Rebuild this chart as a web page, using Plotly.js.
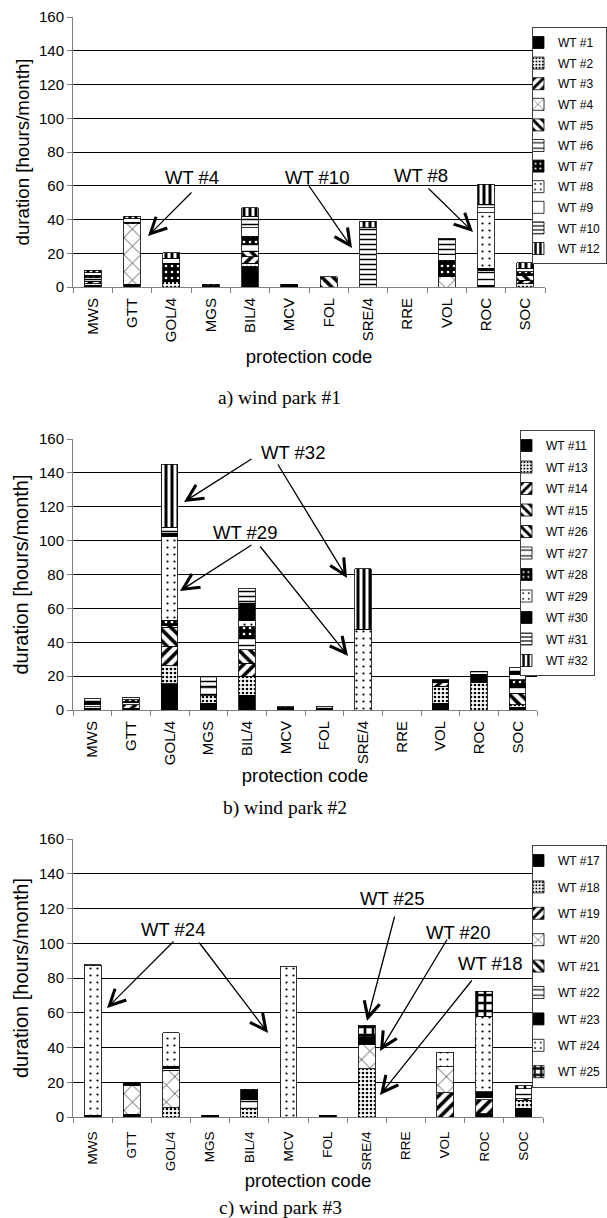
<!DOCTYPE html>
<html>
<head>
<meta charset="utf-8">
<script src="https://cdn.plot.ly/plotly-3.0.1.min.js"></script>
<style>
html,body{margin:0;padding:0;background:#fff;}
#chart{width:607px;height:1218px;}
</style>
</head>
<body>
<div id="chart"></div>
<script>
// ---------- DATA ----------
const categories = ["MWS","GTT","GOL/4","MGS","BIL/4","MCV","FOL","SRE/4","RRE","VOL","ROC","SOC"];

// a) wind park #1  (hours/month, per protection code)
const seriesA = ["WT #1","WT #2","WT #3","WT #4","WT #5","WT #6","WT #7","WT #8","WT #9","WT #10","WT #12"];
const a_wt1  = [1,   1.5, 0,   0.5, 12, 1.5, 0, 0,  0, 0,  1,  0];
const a_wt2  = [1,   0,   3,   0,   2,  0,   0, 0,  0, 0,  0,  2];
const a_wt3  = [1.5, 0,   0,   0,   4,  0,   0, 0,  0, 0,  0,  2];
const a_wt4  = [0,   36,  0,   0,   0,  0,   0, 0,  0, 6,  0,  0];
const a_wt5  = [0,   0,   0,   0,   3,  0,   6, 0,  0, 0,  0,  3];
const a_wt6  = [2,   0,   0,   0,   4,  0,   0, 0,  0, 0,  9,  0];
const a_wt7  = [1.5, 1,   11,  1,   5,  0,   0, 0,  0, 10, 1,  2];
const a_wt8  = [0,   0,   0,   0,   0,  0,   0, 0,  0, 0,  33, 0];
const a_wt9  = [1.5, 2,   3,   0,   5,  0,   0, 0,  0, 3,  3,  2];
const a_wt10 = [0,   0,   0,   0,   7,  0,   0, 35, 0, 10, 2,  0];
const a_wt12 = [1.5, 1.5, 3.4, 0,   5,  0,   0, 4,  0, 0,  12, 3.5];

// b) wind park #2
const seriesB = ["WT #11","WT #13","WT #14","WT #15","WT #26","WT #27","WT #28","WT #29","WT #30","WT #31","WT #32"];
const b_wt11 = [1,   1,   15.5, 4,   8.6,  1, 1,   0,    0, 4,   0,    1.5];
const b_wt13 = [1,   0,   10.5, 4.4, 11.2, 0, 0,   0,    0, 10,  16.5, 1.5];
const b_wt14 = [0,   2,   11.5, 0,   7.8,  0, 0,   0,    0, 2,   0,    0];
const b_wt15 = [0,   0,   11.5, 0,   7.9,  0, 0,   0,    0, 0,   0,    7];
const b_wt26 = [0,   0,   1,    0,   0,    0, 0,   0,    0, 0,   0,    0];
const b_wt27 = [1.5, 1.5, 0,    4.6, 6.9,  0, 1.3, 0,    0, 0,   0,    4];
const b_wt28 = [1.5, 1.5, 3,    0,   6.8,  1, 0,   0,    0, 0,   0,    4];
const b_wt29 = [0,   0,   49.5, 0,   3.8,  0, 0,   47.6, 0, 0,   0,    3];
const b_wt30 = [0,   0,   2,    0,   10,   0, 0,   0,    0, 1.8, 4.5,  2];
const b_wt31 = [1.5, 1.5, 3.5,  6.6, 8.8,  0, 0,   0,    0, 0,   2,    2];
const b_wt32 = [0,   0,   37,   0,   0,    0, 0,   35.9, 0, 0,   0,    0];

// c) wind park #3
const seriesC = ["WT #17","WT #18","WT #19","WT #20","WT #21","WT #22","WT #23","WT #24","WT #25"];
const c_wt17 = [0.5, 1.5,  0,    1, 0,   0,    1, 0,    0, 0,    2,    5];
const c_wt18 = [0,   0,    5.2,  0, 5,   0,    0, 27.9, 0, 0,    0,    4.6];
const c_wt19 = [0,   0,    0,    0, 0,   0,    0, 0,    0, 14,   8,    0];
const c_wt20 = [0,   16.8, 21.8, 0, 0,   0,    0, 14,   0, 14.8, 0,    0];
const c_wt21 = [0,   0,    0,    0, 0,   0,    0, 0,    0, 0,    0,    1];
const c_wt22 = [0,   0,    1,    0, 5,   0,    0, 0,    0, 0,    1,    5.8];
const c_wt23 = [0.5, 1.5,  1.2,  0, 4.6, 0,    0, 4.4,  0, 0,    3.6,  0];
const c_wt24 = [86,  0,    19.4, 0, 0,   86.7, 0, 0,    0, 8.5,  43.3, 0];
const c_wt25 = [0.7, 0,    0,    0, 1.4, 0,    0, 6.6,  0, 0,    14.4, 1.6];

const captions = ["a) wind park #1","b) wind park #2","c) wind park #3"];
const xTitle = "protection code";
const yTitle = "duration [hours/month]";

// ---------- STYLE ----------
const valuesA = [a_wt1,a_wt2,a_wt3,a_wt4,a_wt5,a_wt6,a_wt7,a_wt8,a_wt9,a_wt10,a_wt12];
const valuesB = [b_wt11,b_wt13,b_wt14,b_wt15,b_wt26,b_wt27,b_wt28,b_wt29,b_wt30,b_wt31,b_wt32];
const valuesC = [c_wt17,c_wt18,c_wt19,c_wt20,c_wt21,c_wt22,c_wt23,c_wt24,c_wt25];
const fillA = ["solid","dense","diagF","cross","diagB","hbrick","blackdots","sparse","white","wave","vstripe"];
const fillB = ["solid","dense","diagF","diagB","diagB","hbrick","blackdots","sparse","solid","wave","vstripe"];
const fillC = ["solid","dense","diagF","cross","diagB","hbrick","solid","sparse","checker"];

const FONT = "Liberation Sans, Arial, sans-serif";
const SERIF = "Liberation Serif, Times New Roman, serif";
const W = 607, H = 1218;
const px = v => v / W;
const py = v => 1 - v / H;

function markerFor(key){
  const line = {color:'#000', width:0.8};
  const pat = (shape,size,solidity,fg,bg) => ({shape, size, solidity, fgcolor:fg||'#000', bgcolor:bg||'#fff'});
  switch(key){
    case 'solid': return {color:'#000', line};
    case 'white': return {color:'#fff', line};
    case 'dense': return {color:'#fff', line, pattern:pat('.',4,0.35)};
    case 'sparse': return {color:'#fff', line, pattern:pat('.',7,0.08)};
    case 'diagF': return {color:'#fff', line, pattern:pat('/',8,0.45)};
    case 'diagB': return {color:'#fff', line, pattern:pat('\\',8,0.45)};
    case 'cross': return {color:'#fff', line, pattern:pat('x',12,0.1)};
    case 'hbrick': return {color:'#fff', line, pattern:pat('-',7,0.2)};
    case 'wave': return {color:'#fff', line, pattern:pat('-',5,0.3)};
    case 'vstripe': return {color:'#fff', line, pattern:pat('|',6,0.5)};
    case 'blackdots': return {color:'#000', line, pattern:pat('.',6,0.15,'#fff','#000')};
    case 'checker': return {color:'#fff', line, pattern:pat('+',8,0.55)};
  }
}

const traces = [];
function addPark(names, values, fills, xa, ya, leg){
  names.forEach((n,i) => {
    traces.push({
      type:'bar', name:n, x:categories,
      y: values[i].map(v => v === 0 ? null : v),
      xaxis:xa, yaxis:ya, legend:leg, legendgroup: leg + n,
      marker: markerFor(fills[i]),
      hoverinfo:'name+y'
    });
  });
}
addPark(seriesA, valuesA, fillA, 'x', 'y', 'legend');
addPark(seriesB, valuesB, fillB, 'x2', 'y2', 'legend2');
addPark(seriesC, valuesC, fillC, 'x3', 'y3', 'legend3');

function xAxis(x0, x1, anchor, standoff, tickSize, labelGap){
  return {
    domain:[px(x0), px(x1)], anchor, type:'category',
    categoryorder:'array', categoryarray:categories,
    tickangle:-90, tickson:'boundaries', ticks:'outside', ticklen:5,
    ticklabelstandoff:labelGap,
    tickcolor:'#808080', showline:true, linecolor:'#808080', linewidth:1,
    showgrid:false, tickfont:{family:FONT, size:tickSize, color:'#000'},
    title:{text:xTitle, font:{family:FONT, size:18.5, color:'#000'}, standoff}
  };
}
function yAxis(top, bottom, anchor, titleSize){
  return {
    domain:[py(bottom), py(top)], anchor, range:[0,160], dtick:20,
    showgrid:true, gridcolor:'#000', gridwidth:1, zeroline:false,
    showline:true, linecolor:'#808080', linewidth:1,
    ticks:'outside', ticklen:5, tickcolor:'#808080',
    tickfont:{family:FONT, size:15, color:'#000'},
    title:{text:yTitle, font:{family:FONT, size:titleSize, color:'#000'}, standoff:4}
  };
}
function legendAt(right, top, gap){
  return {
    x:px(right), xanchor:'right', y:py(top), yanchor:'top',
    bgcolor:'#fff', bordercolor:'#404040', borderwidth:1,
    font:{family:FONT, size:12, color:'#000'},
    traceorder:'reversed+grouped', tracegroupgap:gap, indentation:-15
  };
}

const textNotes = [
  ["WT #4", 192, 178], ["WT #10", 317, 178], ["WT #8", 421, 175],
  ["WT #32", 293, 452], ["WT #29", 245, 532],
  ["WT #24", 173, 929], ["WT #25", 392, 898], ["WT #20", 458, 932], ["WT #18", 490, 963]
];
// arrows: [tailX, tailY, tipX, tipY] in page pixels
const arrows = [
  [193,191,148,236],[307,183,352,248],[427,187,473,232],
  [253,458,184,502],[277,463,347,578],[253,544,180,591],[259,545,348,656],
  [175,940,107,1008],[198,941,268,1033],[395,915,367,1021],[448,938,380,1051],[473,979,380,1095]
];
const annotations = [];
textNotes.forEach(t => annotations.push({
  text:t[0], x:px(t[1]), y:py(t[2]), xref:'paper', yref:'paper',
  xanchor:'center', yanchor:'middle', showarrow:false,
  font:{family:FONT, size:18.5, color:'#000'}
}));
arrows.forEach(a => annotations.push({
  text:'', x:px(a[2]), y:py(a[3]), xref:'paper', yref:'paper',
  ax:a[0]-a[2], ay:a[1]-a[3], axref:'pixel', ayref:'pixel',
  showarrow:true, arrowhead:5, arrowwidth:1.3, arrowsize:2.4, arrowcolor:'#000', standoff:0
}));
[[captions[0],279,398],[captions[1],285,808],[captions[2],280,1208]].forEach(c => annotations.push({
  text:c[0], x:px(c[1]), y:py(c[2]), xref:'paper', yref:'paper',
  xanchor:'center', yanchor:'middle', showarrow:false,
  font:{family:SERIF, size:19.5, color:'#000'}
}));

const layout = {
  width:W, height:H, margin:{l:0,r:0,t:0,b:0},
  paper_bgcolor:'#fff', plot_bgcolor:'#fff',
  barmode:'stack', bargap:0.57, showlegend:true,
  font:{family:FONT, color:'#000'},
  xaxis: xAxis(73, 545, 'y', 8, 15, 4),
  yaxis: yAxis(17, 287, 'x', 18.7),
  xaxis2: xAxis(73, 537, 'y2', 4, 15, 4),
  yaxis2: yAxis(439, 710, 'x2', 20),
  xaxis3: xAxis(73, 543, 'y3', 0, 13.5, 8),
  yaxis3: yAxis(839, 1117, 'x3', 20),
  legend: legendAt(607, 27, 1.6),
  legend2: legendAt(595, 430, 2.5),
  legend3: legendAt(607, 845, 7.4),
  annotations
};

Plotly.newPlot('chart', traces, layout, {displayModeBar:false, staticPlot:true});
</script>
</body>
</html>
